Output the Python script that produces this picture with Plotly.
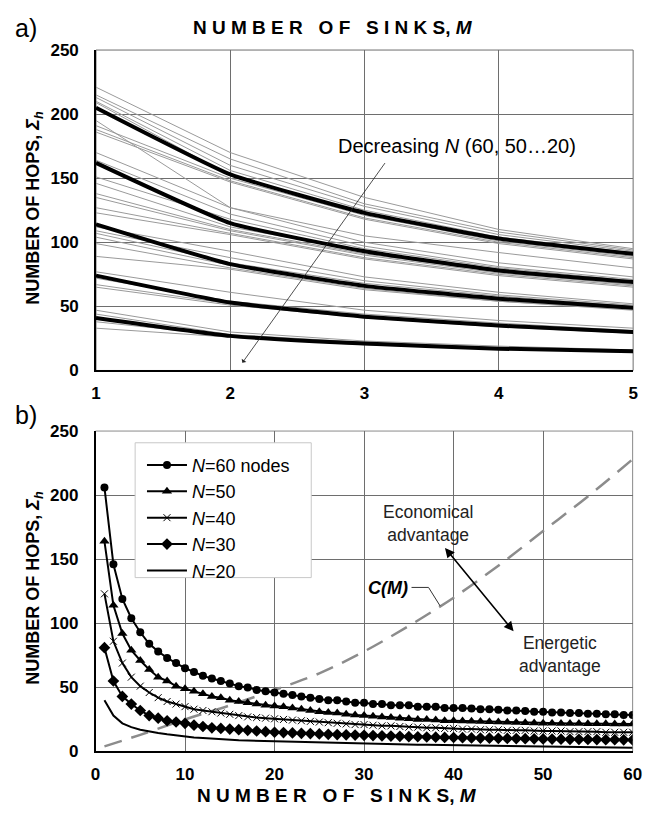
import plotly.graph_objects as go

W, H = 648, 825

# ---------------- data: panel a ----------------
M_top = [1, 2, 3, 4, 5]
thick_labels = ["N=60", "N=50", "N=40", "N=30", "N=20"]
thick_values = [
    [205, 153, 123, 103, 91],
    [162, 115, 93, 78, 69],
    [114, 83, 66, 56, 49],
    [74, 53, 42, 35, 30],
    [41, 27, 21, 17, 15],
]
thin_values = [
    [221, 170, 135, 110, 95],
    [215, 165, 130, 108, 94],
    [213, 160, 128, 106, 93],
    [210, 156, 125, 104, 92],
    [209, 152, 122, 102, 90],
    [191, 150, 121, 101, 89],
    [188, 148, 119, 100, 88],
    [186, 147, 118, 99, 87],
    [195, 127, 105, 92, 80],
    [170, 127, 100, 84, 73],
    [164, 122, 97, 81, 71],
    [151, 118, 95, 80, 70],
    [146, 112, 93, 79, 69],
    [138, 110, 91, 77, 67],
    [135, 109, 90, 76, 67],
    [127, 107, 88, 75, 66],
    [123, 106, 87, 74, 65],
    [112, 93, 73, 61, 52],
    [109, 88, 70, 59, 51],
    [107, 84, 68, 58, 50],
    [104, 82, 66, 56, 49],
    [99, 80, 64, 54, 48],
    [89, 79, 63, 54, 47],
    [77, 61, 47, 39, 33],
    [72, 54, 44, 37, 31],
    [67, 52, 42, 35, 30],
    [65, 51, 41, 34, 29],
    [47, 30, 23, 19, 16],
    [44, 28, 22, 18, 15],
    [38, 27, 21, 17, 15],
    [33, 26, 20, 17, 14],
]

# ---------------- data: panel b ----------------
M_bottom = list(range(1, 61))
hops_N60 = [206, 146, 119, 104, 93, 84, 78, 73, 69, 65,
            62, 59, 57, 55, 53, 51, 50, 48, 47, 46,
            45, 44, 43, 42, 41, 40, 40, 39, 38, 38,
            37, 37, 36, 36, 36, 35, 35, 35, 34, 34,
            34, 33.5, 33, 33, 32.5, 32, 32, 31.5, 31, 31,
            30.5, 30.5, 30, 30, 29.5, 29.5, 29, 29, 28.5, 28.5]
hops_N50 = [164, 114, 92, 79, 71, 64, 58, 55, 51, 49,
            47, 45, 43, 42, 40, 39, 38, 37, 36, 35.5,
            35, 34, 33, 32, 31, 30.5, 30, 29, 28.5, 28,
            27.5, 27, 26.5, 26, 25.5, 25, 25, 24.5, 24, 24,
            23.8, 23.6, 23.4, 23.2, 23, 22.8, 22.6, 22.4, 22.2, 22,
            22, 21.9, 21.8, 21.8, 21.7, 21.6, 21.6, 21.5, 21.5, 21.5]
hops_N40 = [123, 86, 69, 58, 51, 46, 42, 39, 37, 35,
            33, 32, 31, 30, 29, 28, 27, 26.5, 26, 25.5,
            25, 24.5, 24, 23.5, 23, 22.5, 22, 21.5, 21, 21,
            20.5, 20, 20, 19.5, 19, 19, 18.5, 18.5, 18, 18,
            17.5, 17.5, 17, 17, 17, 16.5, 16.5, 16.5, 16, 16,
            16, 16, 15.5, 15.5, 15.5, 15.5, 15, 15, 15, 15]
hops_N30 = [81, 55, 43, 37, 32, 28, 26, 24, 23, 22,
            20.5, 19.5, 18.5, 18, 17.5, 17, 16.5, 16, 15.5, 15,
            14.8, 14.5, 14.2, 14, 13.7, 13.4, 13.2, 13, 12.8, 12.6,
            12.4, 12.2, 12, 11.8, 11.6, 11.5, 11.3, 11.2, 11, 10.9,
            10.8, 10.6, 10.5, 10.4, 10.3, 10.2, 10.1, 10, 9.9, 9.8,
            9.7, 9.6, 9.5, 9.5, 9.4, 9.3, 9.2, 9.2, 9.1, 9]
hops_N20 = [40, 28, 22, 19, 17, 15.5, 14.5, 13.5, 12.5, 11.5,
            11, 10.5, 10, 9.5, 9, 8.8, 8.6, 8.4, 8.2, 8,
            7.8, 7.6, 7.4, 7.2, 7, 6.8, 6.6, 6.4, 6.2, 6,
            6, 5.8, 5.6, 5.5, 5.4, 5.3, 5.2, 5.1, 5, 5,
            4.8, 4.7, 4.6, 4.5, 4.4, 4.3, 4.2, 4.1, 4, 4,
            3.8, 3.7, 3.6, 3.5, 3.4, 3.3, 3.2, 3.1, 3, 3]
cost_M = [1, 5, 10, 15, 20, 25, 30, 35, 40, 45, 50, 55, 60]
cost_C = [4, 13, 25, 36, 48, 61, 78, 98, 120, 145, 172, 199, 228]

legend_names = ["<i>N</i>=60 nodes", "<i>N</i>=50", "<i>N</i>=40", "<i>N</i>=30", "<i>N</i>=20"]
x_ticks_top = [1, 2, 3, 4, 5]
x_ticks_bottom = [0, 10, 20, 30, 40, 50, 60]
y_ticks = [0, 50, 100, 150, 200, 250]


def px(x):
    return x / W


def py(y):
    return 1 - y / H


BOLD = "Liberation Sans, Arial, Helvetica"
REG = "Liberation Sans, Arial, Helvetica"

fig = go.Figure()

# panel a thin lines
for vals in thin_values:
    fig.add_trace(go.Scatter(x=M_top, y=vals, mode="lines",
                             line=dict(color="#9a9a9a", width=1),
                             showlegend=False, xaxis="x", yaxis="y", hoverinfo="skip"))
for name, vals in zip(thick_labels, thick_values):
    fig.add_trace(go.Scatter(x=M_top, y=vals, mode="lines", name=name,
                             line=dict(color="black", width=4, shape="spline", smoothing=0.4),
                             showlegend=False, xaxis="x", yaxis="y"))

# panel b
fig.add_trace(go.Scatter(x=cost_M, y=cost_C, mode="lines", name="C(M)",
                         line=dict(color="#8c8c8c", width=2.5, dash="18px,10px", shape="spline"),
                         showlegend=False, xaxis="x2", yaxis="y2"))
series_b = [hops_N60, hops_N50, hops_N40, hops_N30, hops_N20]
markers_b = [
    dict(symbol="circle", size=8, color="black"),
    dict(symbol="triangle-up", size=9, color="black"),
    dict(symbol="x-thin-open", size=7, color="black", line=dict(width=1, color="black")),
    dict(symbol="diamond", size=9, color="black"),
    None,
]
for name, vals, mk in zip(legend_names, series_b, markers_b):
    if mk is None:
        fig.add_trace(go.Scatter(x=M_bottom, y=vals, mode="lines", name=name,
                                 line=dict(color="black", width=2),
                                 xaxis="x2", yaxis="y2"))
    else:
        fig.add_trace(go.Scatter(x=M_bottom, y=vals, mode="lines+markers", name=name,
                                 line=dict(color="black", width=2), marker=mk,
                                 xaxis="x2", yaxis="y2"))

axis_common = dict(showgrid=True, gridcolor="#6e6e6e", gridwidth=1,
                   showline=True, linecolor="black", linewidth=1.5,
                   zeroline=False, ticks="",
                   tickfont=dict(family=BOLD, size=17, color="black", weight="bold"))

fig.update_layout(
    width=W, height=H,
    margin=dict(l=0, r=0, t=0, b=0),
    paper_bgcolor="white", plot_bgcolor="white",
    showlegend=True,
    legend=dict(x=px(140), y=py(448), xanchor="left", yanchor="top",
                bgcolor="rgba(0,0,0,0)", borderwidth=0,
                font=dict(family=REG, size=18, color="black"),
                tracegroupgap=0, itemwidth=40),
    xaxis=dict(domain=[px(93), px(642)], range=[1, 5], tickvals=x_ticks_top,
               anchor="y", ticklabelstandoff=6, **axis_common),
    yaxis=dict(domain=[py(370), py(42)], range=[0, 250], tickvals=y_ticks,
               anchor="x", ticklabelstandoff=12, **axis_common),
    xaxis2=dict(domain=[px(92.5), px(641.5)], range=[0, 60], tickvals=x_ticks_bottom,
                anchor="y2", ticklabelstandoff=6, **axis_common),
    yaxis2=dict(domain=[py(760), py(432)], range=[0, 250], tickvals=y_ticks,
                anchor="x2", ticklabelstandoff=12, **axis_common),
)

shapes = [
    dict(type="rect", xref="x domain", yref="y domain", x0=0, x1=1, y0=0, y1=1,
         line=dict(color="#6e6e6e", width=1), layer="below"),
    dict(type="rect", xref="x2 domain", yref="y2 domain", x0=0, x1=1, y0=0, y1=1,
         line=dict(color="#8a8a8a", width=1), layer="below"),
    # legend box
    dict(type="rect", xref="paper", yref="paper", x0=px(133), x1=px(313), y0=py(582), y1=py(444),
         fillcolor="white", line=dict(color="#c8c8c8", width=1), layer="above"),
    # C(M) leader
    dict(type="path", xref="x2", yref="y2", path="M 35.3 128 L 37.2 128 L 38.5 113.5",
         line=dict(color="#333333", width=1)),
]
fig.update_layout(shapes=shapes)

ann = []
# panel labels
ann.append(dict(x=px(8), y=py(19), xref="paper", yref="paper", text="a)", showarrow=False,
                xanchor="left", yanchor="middle", font=dict(family=REG, size=25, color="black")))
ann.append(dict(x=px(8), y=py(416), xref="paper", yref="paper", text="b)", showarrow=False,
                xanchor="left", yanchor="middle", font=dict(family=REG, size=25, color="black")))
title_txt = "N U M B E R&nbsp;&nbsp; O F&nbsp;&nbsp; S I N K S, <i>M</i>"
ann.append(dict(x=px(335), y=py(19), xref="paper", yref="paper", text=title_txt, showarrow=False,
                xanchor="center", yanchor="middle",
                font=dict(family=BOLD, size=19, color="black", weight="bold")))
ann.append(dict(x=px(339), y=py(805), xref="paper", yref="paper", text=title_txt, showarrow=False,
                xanchor="center", yanchor="middle",
                font=dict(family=BOLD, size=19, color="black", weight="bold")))
ytitle = "NUMBER OF HOPS, <i>Σ<sub>h</sub></i>"
ann.append(dict(x=px(30), y=py(203), xref="paper", yref="paper", text=ytitle, showarrow=False,
                textangle=-90, xanchor="center", yanchor="middle",
                font=dict(family=BOLD, size=18, color="black", weight="bold")))
ann.append(dict(x=px(30), y=py(592), xref="paper", yref="paper", text=ytitle, showarrow=False,
                textangle=-90, xanchor="center", yanchor="middle",
                font=dict(family=BOLD, size=18, color="black", weight="bold")))
# panel a annotation
ann.append(dict(x=3.69, y=175, xref="x", yref="y", text="Decreasing <i>N</i> (60, 50…20)",
                showarrow=False, font=dict(family=REG, size=20, color="black")))
ann.append(dict(x=2.09, y=6, ax=3.16, ay=163, xref="x", yref="y", axref="x", ayref="y",
                text="", showarrow=True, arrowhead=1, arrowsize=1.2, arrowwidth=0.8,
                arrowcolor="#222222"))
# panel b annotations
ann.append(dict(x=37.1, y=178, xref="x2", yref="y2", text="Economical<br>advantage",
                showarrow=False, font=dict(family=REG, size=17.5, color="#222222")))
ann.append(dict(x=51.9, y=75.5, xref="x2", yref="y2", text="Energetic<br>advantage",
                showarrow=False, font=dict(family=REG, size=17.5, color="#222222")))
ann.append(dict(x=46.7, y=93.8, ax=38.9, ay=160, xref="x2", yref="y2", axref="x2", ayref="y2",
                text="", showarrow=True, arrowhead=2, startarrowhead=2, arrowside="end+start",
                arrowsize=1.2, startarrowsize=1.2, arrowwidth=1.6, arrowcolor="black"))
ann.append(dict(x=35.1, y=127.5, xref="x2", yref="y2", text="<i>C(M)</i>",
                showarrow=False, xanchor="right",
                font=dict(family=REG, size=18, color="black", weight="bold")))
fig.update_layout(annotations=ann)

fig.write_html("out.html")
